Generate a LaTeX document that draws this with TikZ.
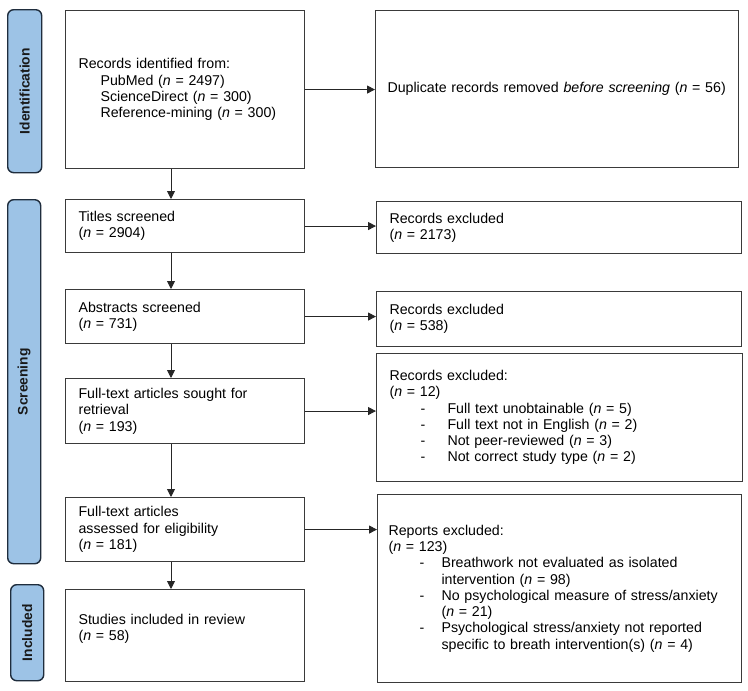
\documentclass[tikz,border=0pt]{standalone}
\usepackage{fontspec}
\setmainfont{Liberation Sans}
\usetikzlibrary{arrows.meta}
\definecolor{barfill}{HTML}{9DC3E6}
\definecolor{barline}{HTML}{1F2D3D}
\definecolor{boxline}{HTML}{3A3A3A}
\begin{document}
\begin{tikzpicture}[x=1pt,y=-1pt,
  txt/.style={font=\fontsize{14.2}{16.3}\selectfont},
  box/.style={draw=boxline, line width=1.1pt, rectangle, inner sep=0pt, anchor=north west, align=left, txt},
  bar/.style={draw=barline, fill=barfill, line width=1.4pt, rounded corners=6pt, rectangle, inner sep=0pt, anchor=north west},
  barlabel/.style={rotate=90, font=\fontsize{13.8}{15}\selectfont\bfseries, text=black!90},
  arr/.style={draw=black!85, line width=0.9pt, -{Triangle[length=8pt,width=8pt]}}]
\useasboundingbox (0,0) rectangle (748,691);
\fill[white] (0,0) rectangle (748,691);

% phase bars
\node[bar, minimum width=34pt, minimum height=163pt] (bid) at (7,9) {};
\node[barlabel] (lid) at (bid.center) {Identification};
\node[bar, minimum width=33pt, minimum height=364pt] (bsc) at (7,199) {};
\node[barlabel] (lsc) at (bsc.center) {Screening};
\node[bar, minimum width=33pt, minimum height=96pt] (bin) at (10,584) {};
\node[barlabel] (lin) at (bin.center) {Included};

% left column
\node[box, minimum width=239pt, minimum height=158pt, text width=213pt] (A) at (65,10)
  {Records identified from:\\
   \hspace*{22pt}PubMed (\textit{n} = 2497)\\
   \hspace*{22pt}ScienceDirect (\textit{n} = 300)\\
   \hspace*{22pt}Reference-mining (\textit{n} = 300)};
\node[box, minimum width=239pt, minimum height=53pt, text width=213pt] (T) at (65,199)
  {Titles screened\\(\textit{n} = 2904)};
\node[box, minimum width=239pt, minimum height=54pt, text width=213pt] (Ab) at (65,289)
  {Abstracts screened\\(\textit{n} = 731)};
\node[box, minimum width=239pt, minimum height=65pt, text width=213pt] (S) at (65,378)
  {Full-text articles sought for\\retrieval\\(\textit{n} = 193)};
\node[box, minimum width=239pt, minimum height=64pt, text width=213pt] (E) at (65,497)
  {Full-text articles\\assessed for eligibility\\(\textit{n} = 181)};
\node[box, minimum width=239pt, minimum height=92pt, text width=213pt] (I) at (65,589)
  {Studies included in review\\(\textit{n} = 58)\\\mbox{}};

% right column
\node[box, minimum width=363pt, minimum height=157pt, text width=339pt] (D) at (375,10)
  {Duplicate records removed \textit{before screening} (\textit{n} = 56)};
\node[box, minimum width=365pt, minimum height=52pt, text width=339pt] (R1) at (376,201)
  {Records excluded\\(\textit{n} = 2173)};
\node[box, minimum width=365pt, minimum height=55pt, text width=339pt] (R2) at (376,291)
  {Records excluded\\(\textit{n} = 538)};
\node[box, minimum width=366pt, minimum height=128pt, text width=340pt] (R3) at (376,353)
  {Records excluded:\\
   (\textit{n} = 12)\\
   \hspace*{31pt}\makebox[27pt][l]{-}Full text unobtainable (\textit{n} = 5)\\
   \hspace*{31pt}\makebox[27pt][l]{-}Full text not in English (\textit{n} = 2)\\
   \hspace*{31pt}\makebox[27pt][l]{-}Not peer-reviewed (\textit{n} = 3)\\
   \hspace*{31pt}\makebox[27pt][l]{-}Not correct study type (\textit{n} = 2)};
\node[box, minimum width=364pt, minimum height=188pt, text width=342pt] (R4) at (377,494)
  {Reports excluded:\\
   (\textit{n} = 123)\\
   \hspace*{31pt}\makebox[22pt][l]{-}Breathwork not evaluated as isolated\\
   \hspace*{53pt}intervention (\textit{n} = 98)\\
   \hspace*{31pt}\makebox[22pt][l]{-}No psychological measure of stress/anxiety\\
   \hspace*{53pt}(\textit{n} = 21)\\
   \hspace*{31pt}\makebox[22pt][l]{-}Psychological stress/anxiety not reported\\
   \hspace*{53pt}specific to breath intervention(s) (\textit{n} = 4)};

% connectors
\coordinate (vx) at (171,0);
\draw[arr] (A.south -| vx) -- (T.north -| vx);
\draw[arr] (T.south -| vx) -- (Ab.north -| vx);
\draw[arr] (Ab.south -| vx) -- (S.north -| vx);
\draw[arr] (S.south -| vx) -- (E.north -| vx);
\draw[arr] (E.south -| vx) -- (I.north -| vx);

\draw[arr] (A.east) -- (A.east -| D.west);
\draw[arr] (T.east) -- (T.east -| R1.west);
\draw[arr] (Ab.east) -- (Ab.east -| R2.west);
\draw[arr] (S.east) -- (S.east -| R3.west);
\draw[arr] (E.east) -- (E.east -| R4.west);
\end{tikzpicture}
\end{document}
